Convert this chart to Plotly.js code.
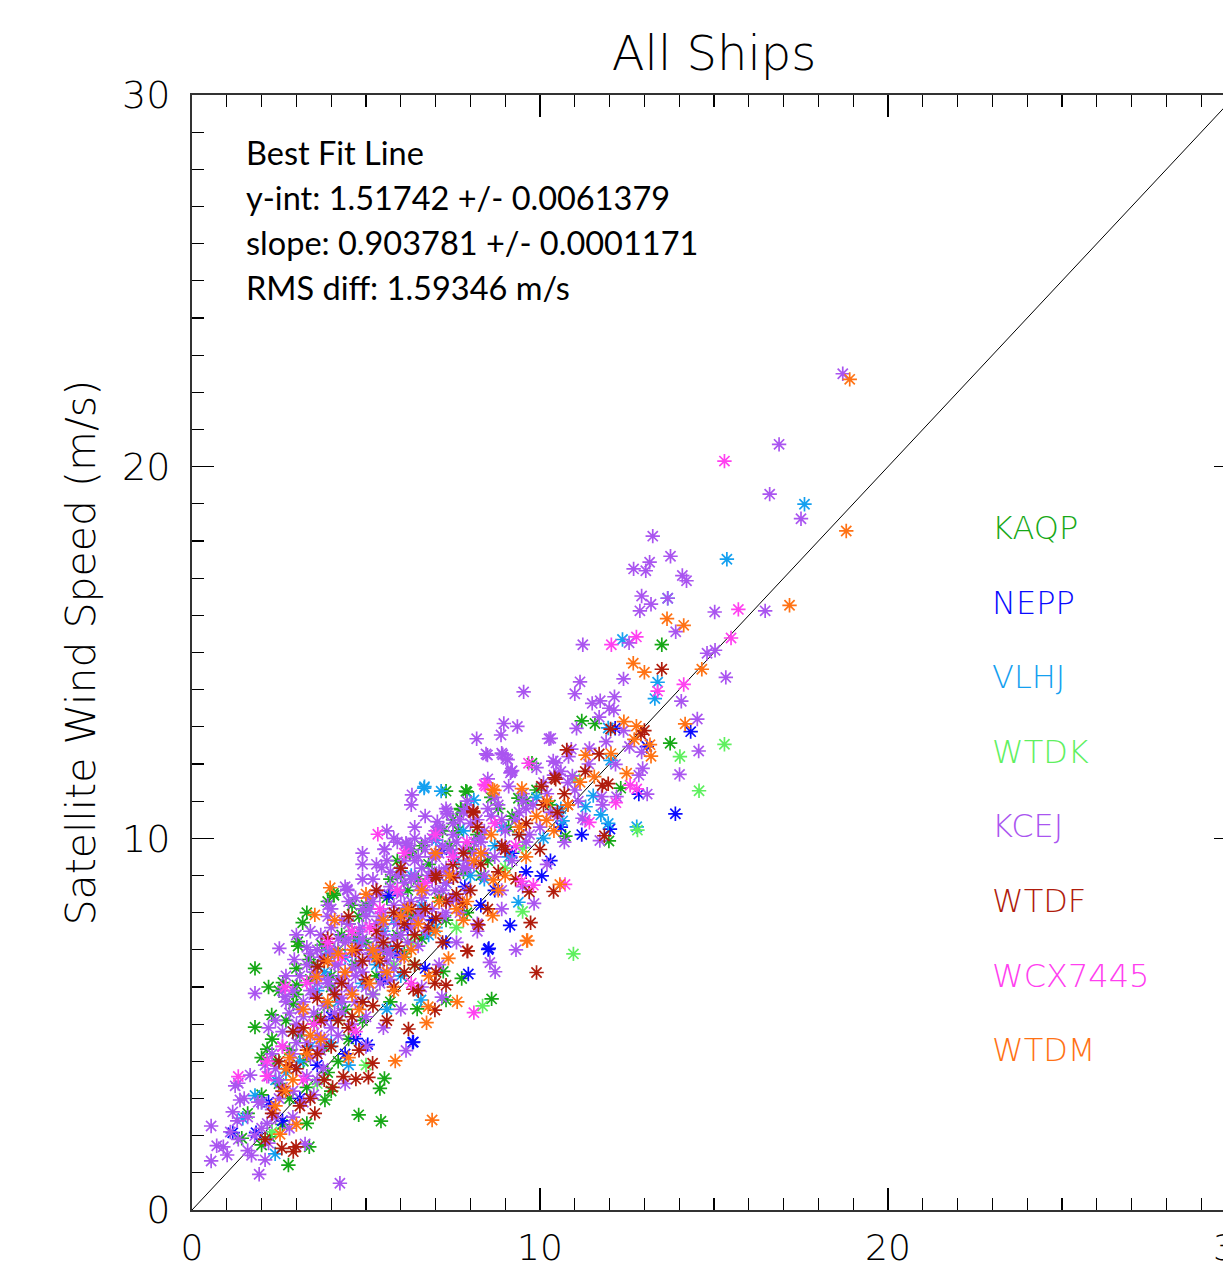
<!DOCTYPE html>
<html>
<head>
<meta charset="utf-8">
<script src="https://cdn.plot.ly/plotly-3.0.1.min.js"></script>
<style>
html,body{margin:0;padding:0;background:#fff;overflow:hidden;width:1223px;height:1273px;}
#chart{width:1280px;height:1330px;}
</style>
</head>
<body>
<div id="chart"></div>
<script>
// ---------------- DATA ----------------
const shipNames = ["KAQP","NEPP","VLHJ","WTDK","KCEJ","WTDF","WCX7445","WTDM"];
const shipColors = ["#16a816","#0a0aff","#14a0f0","#5ff05f","#aa55f0","#b01c0c","#ff40f0","#ff7214"];

const kaqpX = [13.5,11.2,11.58,13.74,12.32,11.98,10.73,7.3,7.9,7.74,9.38,9.77,7.87,7.72,7.65,6.24,4.06,7.75,6.26,4.08,3.18,3.04,3.05,3.73,1.81,1.81,2.29,2.61,2.91,3.01,3.36,2.77,3.37,2.24,2.0,1.43,4.79,5.43,5.4,5.53,3.3,3.82,2.16,8.61,7.3,7.22,6.47,2.5,3.2,3.6,4.0,4.4,4.7,5.0,5.3,5.6,5.9,6.2,6.5,6.8,7.1,7.4,7.8,8.2,8.5,8.8,9.1,4.2,3.4,2.3,2.8,4.9,5.7,6.1,6.6,9.6,10.3,3.9,4.5,
  2.0,2.4,2.7,3.1,3.5,3.9,4.3,4.8,5.2,5.7,6.1,6.6,7.0,7.5,8.0,8.6,9.2,9.9,2.6,3.0,3.3,3.8,4.6,5.5,6.4,7.3,8.3,1.6,2.2,4.0,
  2.0,2.5,3.0,3.5,4.0,4.5,5.0,5.5,6.0,6.5,3.3,4.2,5.2,6.3,7.2,2.8,3.9,4.7,5.9,7.9];
const kaqpY = [15.21,13.16,13.09,12.56,11.35,9.93,10.06,11.27,11.25,10.77,11.08,12.02,11.27,10.8,10.2,9.64,8.52,6.23,9.6,8.47,7.73,7.22,7.1,7.13,6.5,4.92,5.25,6.12,5.54,6.05,6.74,1.21,1.7,1.97,1.75,1.93,2.56,2.39,3.27,3.54,2.33,2.96,4.33,5.68,5.65,6.42,5.41,3.4,4.0,5.2,6.0,5.4,6.6,7.2,6.3,8.4,7.4,8.6,8.0,9.3,8.4,9.8,9.1,10.1,9.4,10.8,10.3,7.0,6.2,4.6,4.3,5.1,5.6,6.9,7.3,11.0,10.9,3.7,4.6,
  3.1,4.0,5.1,4.7,6.6,5.5,7.4,7.9,6.9,8.9,8.0,9.8,9.0,10.5,9.7,11.1,10.6,11.3,2.3,5.8,3.3,4.4,8.2,7.7,6.6,7.8,9.0,2.6,6.0,3.2,
  4.1,5.9,6.5,5.0,6.3,7.7,8.2,7.0,9.0,8.9,8.0,4.0,5.8,7.9,10.2,3.0,8.3,7.3,9.4,8.0];

const neppX = [12.16,14.33,13.07,13.89,12.84,12.01,6.36,5.05,4.71,5.66,1.17,1.84,7.18,7.84,9.14,8.51,7.94,10.05,8.53,6.34,3.1,4.4,5.5,6.2,6.9,7.5,8.3,9.2,10.3,11.2,4.0,2.6,
  3.6,4.9,5.9,6.7,7.3,8.7,9.6,10.6,2.2];
const neppY = [12.96,12.87,12.47,10.66,11.19,10.25,4.52,4.45,4.61,8.46,2.08,2.08,9.69,8.7,7.66,7.01,6.35,8.99,7.04,4.51,3.0,4.2,6.2,7.6,7.8,8.4,8.2,9.6,9.4,10.1,5.2,2.4,
  3.9,5.6,6.9,6.5,7.2,8.6,9.1,10.3,2.9];

const vlhjX = [17.6,15.37,13.67,12.37,13.38,13.3,11.96,12.03,11.53,11.31,11.75,11.96,10.65,12.78,6.67,7.16,6.68,8.1,7.01,9.38,1.46,1.81,2.39,6.58,2.7,3.4,4.2,4.9,5.5,6.0,6.6,7.3,8.0,8.7,9.4,10.1,3.8,5.1,4.5,
  2.0,2.9,3.6,4.4,5.3,5.8,6.3,7.0,7.8,8.4,9.1,9.9,10.6,4.0,5.6,
  3.1,3.9,4.8,5.7,6.8,7.6,8.9,2.4];
const vlhjY = [18.99,17.51,16.46,15.35,14.2,13.76,12.97,12.1,11.15,10.85,10.63,10.4,10.47,10.31,11.35,11.27,11.39,11.03,9.95,8.28,2.47,3.08,1.51,5.65,3.7,4.4,5.6,6.1,7.5,6.3,8.2,8.8,9.0,9.8,10.1,10.0,6.4,8.1,3.9,
  2.9,4.8,5.9,6.8,6.6,7.8,9.0,7.6,10.2,8.9,9.5,11.1,10.8,4.5,5.4,
  4.0,6.9,7.2,7.0,7.4,9.4,10.3,3.5];

const wtdkX = [15.3,14.02,14.57,12.8,10.96,9.5,9.5,8.35,2.3,5.0,6.3,7.6,4.2,9.0,3.6,11.0,5.8];
const wtdkY = [12.53,12.2,11.28,10.22,6.89,8.03,9.75,5.49,2.1,3.9,7.2,7.6,5.1,9.2,3.4,11.6,6.6];

const kcejX = [18.7,16.87,16.6,17.5,13.24,13.75,13.15,12.69,13.04,14.09,14.21,12.92,13.67,13.19,12.87,15.02,16.47,13.9,12.56,11.23,14.8,15.03,15.34,11.15,12.4,11.0,9.53,14.06,11.5,11.73,12.14,11.99,12.12,11.7,11.05,8.18,8.88,8.96,9.35,8.49,8.93,9.07,9.2,9.15,10.31,10.38,10.26,10.82,11.42,12.57,12.92,14.52,14.56,14.01,10.93,10.54,12.84,12.95,12.2,13.08,11.77,11.22,11.72,12.17,10.46,6.32,7.34,8.45,8.9,9.02,9.17,7.32,7.05,7.13,6.15,5.53,5.45,4.46,9.83,9.31,8.56,8.71,7.18,6.15,5.53,6.16,4.47,2.51,2.94,3.3,1.81,2.68,0.55,0.71,0.55,1.01,1.33,1.17,1.38,1.24,1.33,1.67,1.93,1.71,2.1,3.25,2.16,4.25,3.77,
  2.3,2.6,2.8,3.0,3.2,3.4,3.5,3.6,3.8,3.9,4.0,4.1,4.2,4.3,4.4,4.5,4.6,4.7,4.8,4.9,5.0,5.0,5.1,5.2,5.3,5.4,5.5,5.6,5.7,5.8,5.9,6.0,6.1,6.2,6.3,6.4,6.5,6.6,6.7,6.8,6.9,7.0,7.1,7.2,7.3,7.4,7.5,7.6,7.7,7.8,7.9,8.0,8.1,8.2,8.3,8.4,8.6,8.7,8.9,9.0,9.2,9.4,9.6,9.8,10.0,10.2,10.5,10.8,11.1,3.3,2.9,2.5,2.2,1.9,2.4,3.7,4.2,4.6,5.2,5.7,6.0,6.5,4.0,3.6,3.1,2.7,3.9,4.9,5.3,6.4,5.8,2.0,1.6,2.9,3.5,
  2.1,2.4,2.6,2.9,3.1,3.3,3.5,3.7,3.9,4.1,4.3,4.5,4.7,4.9,5.1,5.3,5.5,5.7,5.9,6.1,6.3,6.5,6.7,6.9,7.1,7.3,7.5,7.7,7.9,8.1,
  2.2,2.5,2.8,3.0,3.3,3.6,3.8,4.1,4.4,4.6,4.8,5.0,5.3,5.6,5.8,6.0,6.3,6.6,6.9,7.2,7.5,7.8,8.1,8.4,8.7,9.0,9.3,9.7,10.1,10.6,
  3.4,3.7,4.0,4.2,4.5,4.8,5.1,5.4,5.6,5.9,6.2,6.4,6.7,7.0,7.3,7.6,7.9,8.2,8.5,8.8,9.1,9.5,9.9,10.4,10.9,11.4,11.9,12.4,3.0,2.7,
  1.3,1.5,1.8,2.0,2.3,2.6,0.9,1.1,1.6,2.2,2.8,3.2,3.6,4.4,5.0,5.5,6.0,6.6,7.1,7.6,8.2,8.9,9.5,10.2,10.7,11.3,11.8,4.9,5.6,6.3,
  3.2,3.5,3.8,4.0,4.3,4.6,4.9,5.2,5.5,5.8,6.1,6.4,6.7,7.0,7.3,3.4,3.9,4.4,4.9,5.4,5.9,6.4,6.9,7.4,7.9,2.6,3.0,3.6,4.2,4.8,5.4,6.0,6.6,7.2,7.8,8.4,9.0,9.6,10.3,11.0,
  4.1,4.7,5.3,5.9,6.5,7.1,7.7,8.3,8.9,9.5,3.1,3.7,4.3,4.9,5.5,6.1,6.7,7.3,7.9,8.5,2.4,2.9,3.4,3.9,4.5,5.1,5.7,6.3,6.9,7.5];
const kcejY = [22.5,20.6,19.26,18.6,18.13,17.59,17.43,17.25,17.2,17.07,16.93,16.52,16.46,16.3,16.12,16.09,16.12,15.56,15.26,15.21,14.98,15.06,14.33,14.21,14.29,13.89,13.94,13.69,13.63,13.7,13.81,13.5,13.45,13.26,12.96,12.68,12.78,13.09,13.01,12.24,12.25,12.12,11.82,11.76,12.69,12.08,12.68,12.2,12.42,12.47,12.32,13.21,12.35,11.72,11.68,11.72,11.7,11.88,11.12,11.19,11.12,10.54,9.94,11.99,12.03,11.17,10.66,12.27,12.29,12.15,11.8,10.72,10.45,10.24,9.87,9.71,9.21,8.63,8.25,7.0,6.66,6.41,5.73,4.29,9.7,9.85,8.6,7.04,6.74,7.07,5.83,5.74,2.26,1.73,1.32,1.48,1.9,2.64,2.96,3.34,3.41,3.63,0.96,1.47,1.35,1.78,2.33,0.72,3.81,
  4.2,4.8,3.9,4.5,5.2,4.1,5.8,4.7,5.5,6.2,4.9,5.9,6.6,5.3,7.2,6.0,6.9,5.6,7.5,6.4,7.9,5.2,6.8,8.3,7.3,6.1,8.0,7.0,8.7,6.5,7.7,9.1,8.2,7.2,8.9,7.8,9.5,8.4,7.5,9.0,10.0,8.6,9.6,7.9,9.2,8.3,10.1,9.0,8.0,9.7,8.6,10.4,9.3,7.7,10.0,9.0,10.6,9.5,8.6,10.2,9.4,10.7,9.9,10.9,10.3,11.2,10.6,11.5,11.0,3.6,3.2,3.0,3.6,2.9,2.5,4.4,4.7,5.0,5.8,6.2,6.8,7.1,7.6,7.0,6.3,5.6,8.2,8.9,9.3,10.3,10.0,2.2,2.5,2.5,3.1,
  3.9,5.1,4.4,5.9,4.8,6.6,5.3,7.4,6.1,7.0,5.7,7.7,6.3,8.1,7.0,8.6,7.4,9.1,7.9,9.4,8.3,8.7,9.9,8.1,10.3,8.8,9.6,10.5,9.2,9.9,
  4.9,3.5,5.3,3.8,4.5,6.1,4.6,5.3,6.3,5.9,6.6,6.0,7.7,6.7,7.3,8.5,7.6,9.2,8.9,9.8,8.4,10.7,9.6,10.2,11.1,9.7,10.5,10.1,11.5,11.8,
  7.5,6.8,8.1,7.3,8.3,7.1,8.4,7.9,9.4,8.6,9.8,9.0,10.6,9.5,10.8,9.9,11.0,10.5,11.6,10.9,11.4,11.2,11.9,11.7,12.4,12.0,12.6,12.9,7.4,6.3,
  2.4,3.0,2.0,2.9,2.7,3.3,1.7,2.1,1.6,1.8,2.2,2.9,3.5,3.4,4.4,4.9,5.4,6.0,6.6,7.2,7.5,8.1,8.7,9.3,9.9,10.5,10.9,9.6,10.2,10.9,
  5.6,6.4,5.1,6.9,7.8,6.5,7.3,8.9,7.7,8.2,8.8,9.4,8.6,10.2,9.1,6.9,7.9,8.7,9.3,8.5,9.9,10.0,9.1,9.7,10.8,5.9,5.0,6.3,6.2,7.0,7.0,7.4,7.9,8.6,9.2,9.6,9.8,10.8,10.7,11.3,
  6.6,8.4,7.0,9.0,8.0,9.1,8.3,9.9,10.5,11.0,5.4,4.3,5.6,7.6,6.4,7.9,9.7,8.0,9.4,10.8,3.8,4.2,5.9,7.1,7.3,8.1,6.9,9.7,9.5,10.4];

const wtdfX = [13.5,12.03,12.9,13.0,10.77,11.7,10.42,11.79,11.96,11.85,10.5,10.8,10.45,10.04,8.09,8.08,7.01,7.51,7.78,7.01,8.23,9.73,7.92,9.9,9.69,10.39,3.61,2.58,2.91,2.99,3.53,5.07,4.71,5.19,4.04,4.35,6.98,6.22,6.98,7.3,7.01,7.91,6.36,
  2.6,3.0,3.3,3.7,4.0,4.3,4.6,4.9,5.2,5.5,5.8,6.1,6.4,6.7,7.2,7.5,8.0,8.5,8.9,9.3,9.6,10.0,3.9,5.3,2.9,4.5,6.0,
  2.3,2.8,3.2,3.6,4.1,4.5,5.0,5.4,5.9,6.3,6.8,7.3,7.8,8.3,8.8,9.4,10.1,10.7,11.3,3.4,4.8,6.5,2.1,3.8,5.6,
  2.5,3.1,3.6,4.2,4.7,5.3,5.8,6.4,7.0,7.6,8.2,3.8,4.9,6.1,9.0];
const wtdfY = [14.55,12.94,12.8,12.9,12.38,12.27,11.63,11.42,11.47,10.07,10.7,10.9,11.59,11.4,10.69,10.73,8.94,8.94,8.23,7.85,7.67,7.73,6.97,6.39,8.56,8.57,6.55,1.66,1.57,1.7,2.6,3.57,3.52,3.95,3.3,3.59,5.38,4.87,6.1,6.05,6.39,6.97,5.94,
  3.2,3.8,4.3,5.1,4.4,6.1,5.2,6.7,5.5,7.2,6.0,7.7,6.6,8.1,7.2,9.3,8.6,8.1,9.8,8.9,10.4,9.7,7.3,8.6,4.8,7.9,9.2,
  2.6,3.9,4.9,4.2,5.8,4.9,6.2,6.7,7.1,8.1,7.6,8.3,9.6,9.3,9.1,10.1,10.9,11.2,11.8,3.0,4.3,5.9,1.9,3.5,5.1,
  4.0,2.8,5.7,5.1,7.0,7.5,8.0,7.4,9.0,8.5,10.3,6.7,5.6,6.4,9.7];

const wcxX = [15.3,15.7,12.77,12.05,15.49,14.13,13.38,12.59,12.78,12.18,11.42,8.44,9.67,8.4,5.34,9.47,9.81,10.72,8.1,2.68,3.3,1.33,2.16,2.15,3.5,4.3,5.1,5.9,6.7,7.5,4.7,6.3,
  2.6,3.9,4.6,5.4,6.1,7.0,7.9,8.7,9.3,3.2];
const wcxY = [20.15,16.16,15.42,15.21,15.39,14.14,13.96,11.43,11.33,10.96,10.43,11.41,12.02,11.45,10.11,8.84,8.74,8.76,5.31,6.0,6.12,3.59,4.0,3.6,5.0,6.8,7.6,8.6,8.8,9.5,4.8,6.1,
  4.4,7.2,7.5,8.1,9.6,10.1,9.9,10.4,9.8,3.5];

const wtdmX = [18.9,18.8,17.17,13.65,14.13,12.68,13.0,14.65,12.41,12.77,12.71,13.16,13.19,14.17,11.31,12.04,11.15,11.56,12.49,10.19,8.69,9.48,8.64,8.64,9.64,8.66,10.57,3.97,3.53,3.58,2.53,6.9,5.84,6.74,7.62,2.69,9.62,7.37,6.79,
  2.9,3.4,3.9,4.4,4.8,5.2,5.6,6.0,6.3,6.6,7.0,7.4,7.9,8.3,9.0,9.4,9.9,10.4,4.1,5.0,
  2.4,2.8,3.2,3.7,4.2,4.6,5.1,5.5,6.1,6.5,7.1,7.6,8.1,8.8,9.6,10.2,10.8,3.0,4.5,6.8,
  3.3,3.9,4.6,5.3,6.2,7.0,7.8,8.6,2.7,5.8];
const wtdmY = [22.35,18.27,16.27,15.91,15.73,14.71,14.47,14.55,13.14,13.02,12.66,12.52,12.21,13.08,12.24,12.28,11.51,11.66,11.75,10.49,11.29,11.34,11.32,7.92,7.25,8.88,8.76,8.67,7.94,6.28,2.04,2.42,4.01,5.04,5.6,3.21,7.25,6.77,5.47,
  3.5,4.7,5.6,6.4,5.4,7.0,6.4,7.9,7.0,8.6,7.5,9.0,8.3,9.6,9.0,10.3,10.6,10.2,7.8,8.5,
  2.8,4.1,5.4,4.6,6.9,5.8,6.1,7.8,6.8,7.7,8.3,8.1,9.4,8.6,9.5,11.0,10.9,2.3,4.1,6.3,
  4.2,6.7,7.0,6.8,8.1,9.6,7.8,10.1,3.8,5.9];

const seriesX = [kaqpX, neppX, vlhjX, wtdkX, kcejX, wtdfX, wcxX, wtdmX];
const seriesY = [kaqpY, neppY, vlhjY, wtdkY, kcejY, wtdfY, wcxY, wtdmY];

// one-to-one reference line
const refLineX = [0, 30];
const refLineY = [0, 30];

const fitText = ["Best Fit Line","y-int: 1.51742 +/- 0.0061379","slope: 0.903781 +/- 0.0001171","RMS diff: 1.59346 m/s"];
const tickVals = [0, 10, 20, 30];
const tickText = ["0", "10", "20", "30"];

// ---------------- LAYOUT ----------------
const W = 1280, H = 1330;
const L = 192, T = 95, PW = 1044, PH = 1115;
const idlFont = "DejaVu Sans, sans-serif";

const traces = [];
traces.push({
  x: refLineX, y: refLineY, mode: 'lines', type: 'scatter',
  line: {color: '#000', width: 1}, hoverinfo: 'skip'
});
for (let i = 0; i < shipNames.length; i++) {
  traces.push({
    x: seriesX[i], y: seriesY[i], name: shipNames[i],
    mode: 'markers', type: 'scatter',
    marker: {symbol: 'asterisk-open', size: 12, color: shipColors[i],
             line: {color: shipColors[i], width: 1.7}}
  });
}

const annotations = [];
fitText.forEach((t, i) => {
  annotations.push({
    text: t, xref: 'paper', yref: 'paper',
    x: (244 - L) / PW, y: (1210 - (152 + 45 * i)) / PH,
    xanchor: 'left', yanchor: 'middle', showarrow: false,
    font: {family: 'Lato, Open Sans, sans-serif', size: 32.5, color: '#000'}
  });
});
shipNames.forEach((n, i) => {
  annotations.push({
    text: n, xref: 'paper', yref: 'paper',
    x: (990 - L) / PW, y: (1210 - (528 + 74.6 * i)) / PH,
    xanchor: 'left', yanchor: 'middle', showarrow: false,
    font: {family: 'DejaVu Sans, sans-serif', size: 32, weight: 200, color: shipColors[i]}
  });
});
annotations.push({
  text: 'Satellite Wind Speed (m/s)', xref: 'paper', yref: 'paper',
  x: (80 - L) / PW, y: 0.5, xanchor: 'center', yanchor: 'middle',
  textangle: -90, showarrow: false,
  font: {family: idlFont, size: 41, weight: 200, color: '#000'}
});

const axisCommon = {
  range: [0, 30], tickvals: tickVals, ticktext: tickText,
  ticks: 'inside', ticklen: 22, tickwidth: 1.2, tickcolor: '#000',
  showline: true, linecolor: '#333', linewidth: 2, mirror: 'ticks',
  showgrid: false, zeroline: false,
  minor: {dtick: 1, tick0: 0, ticks: 'inside', ticklen: 12, tickwidth: 1.2, tickcolor: '#000', showgrid: false},
  tickfont: {family: idlFont, size: 38, weight: 200, color: '#000'},
  fixedrange: true
};

const layout = {
  width: W, height: H,
  margin: {l: L, t: T, r: W - L - PW, b: H - T - PH},
  paper_bgcolor: '#fff', plot_bgcolor: '#fff',
  showlegend: false, hovermode: false,
  title: {text: 'All Ships', x: 0.5, xref: 'paper', xanchor: 'center',
          y: 1 - 53 / H, yref: 'container', yanchor: 'middle',
          font: {family: idlFont, size: 48, weight: 200, color: '#000'}},
  xaxis: Object.assign({}, axisCommon, {ticklabelstandoff: 5,
          tickfont: {family: idlFont, size: 36, weight: 200, color: '#000'}}),
  yaxis: Object.assign({}, axisCommon, {ticklabelstandoff: 12}),
  annotations: annotations
};

Plotly.newPlot('chart', traces, layout, {staticPlot: true, displayModeBar: false});
</script>
</body>
</html>
